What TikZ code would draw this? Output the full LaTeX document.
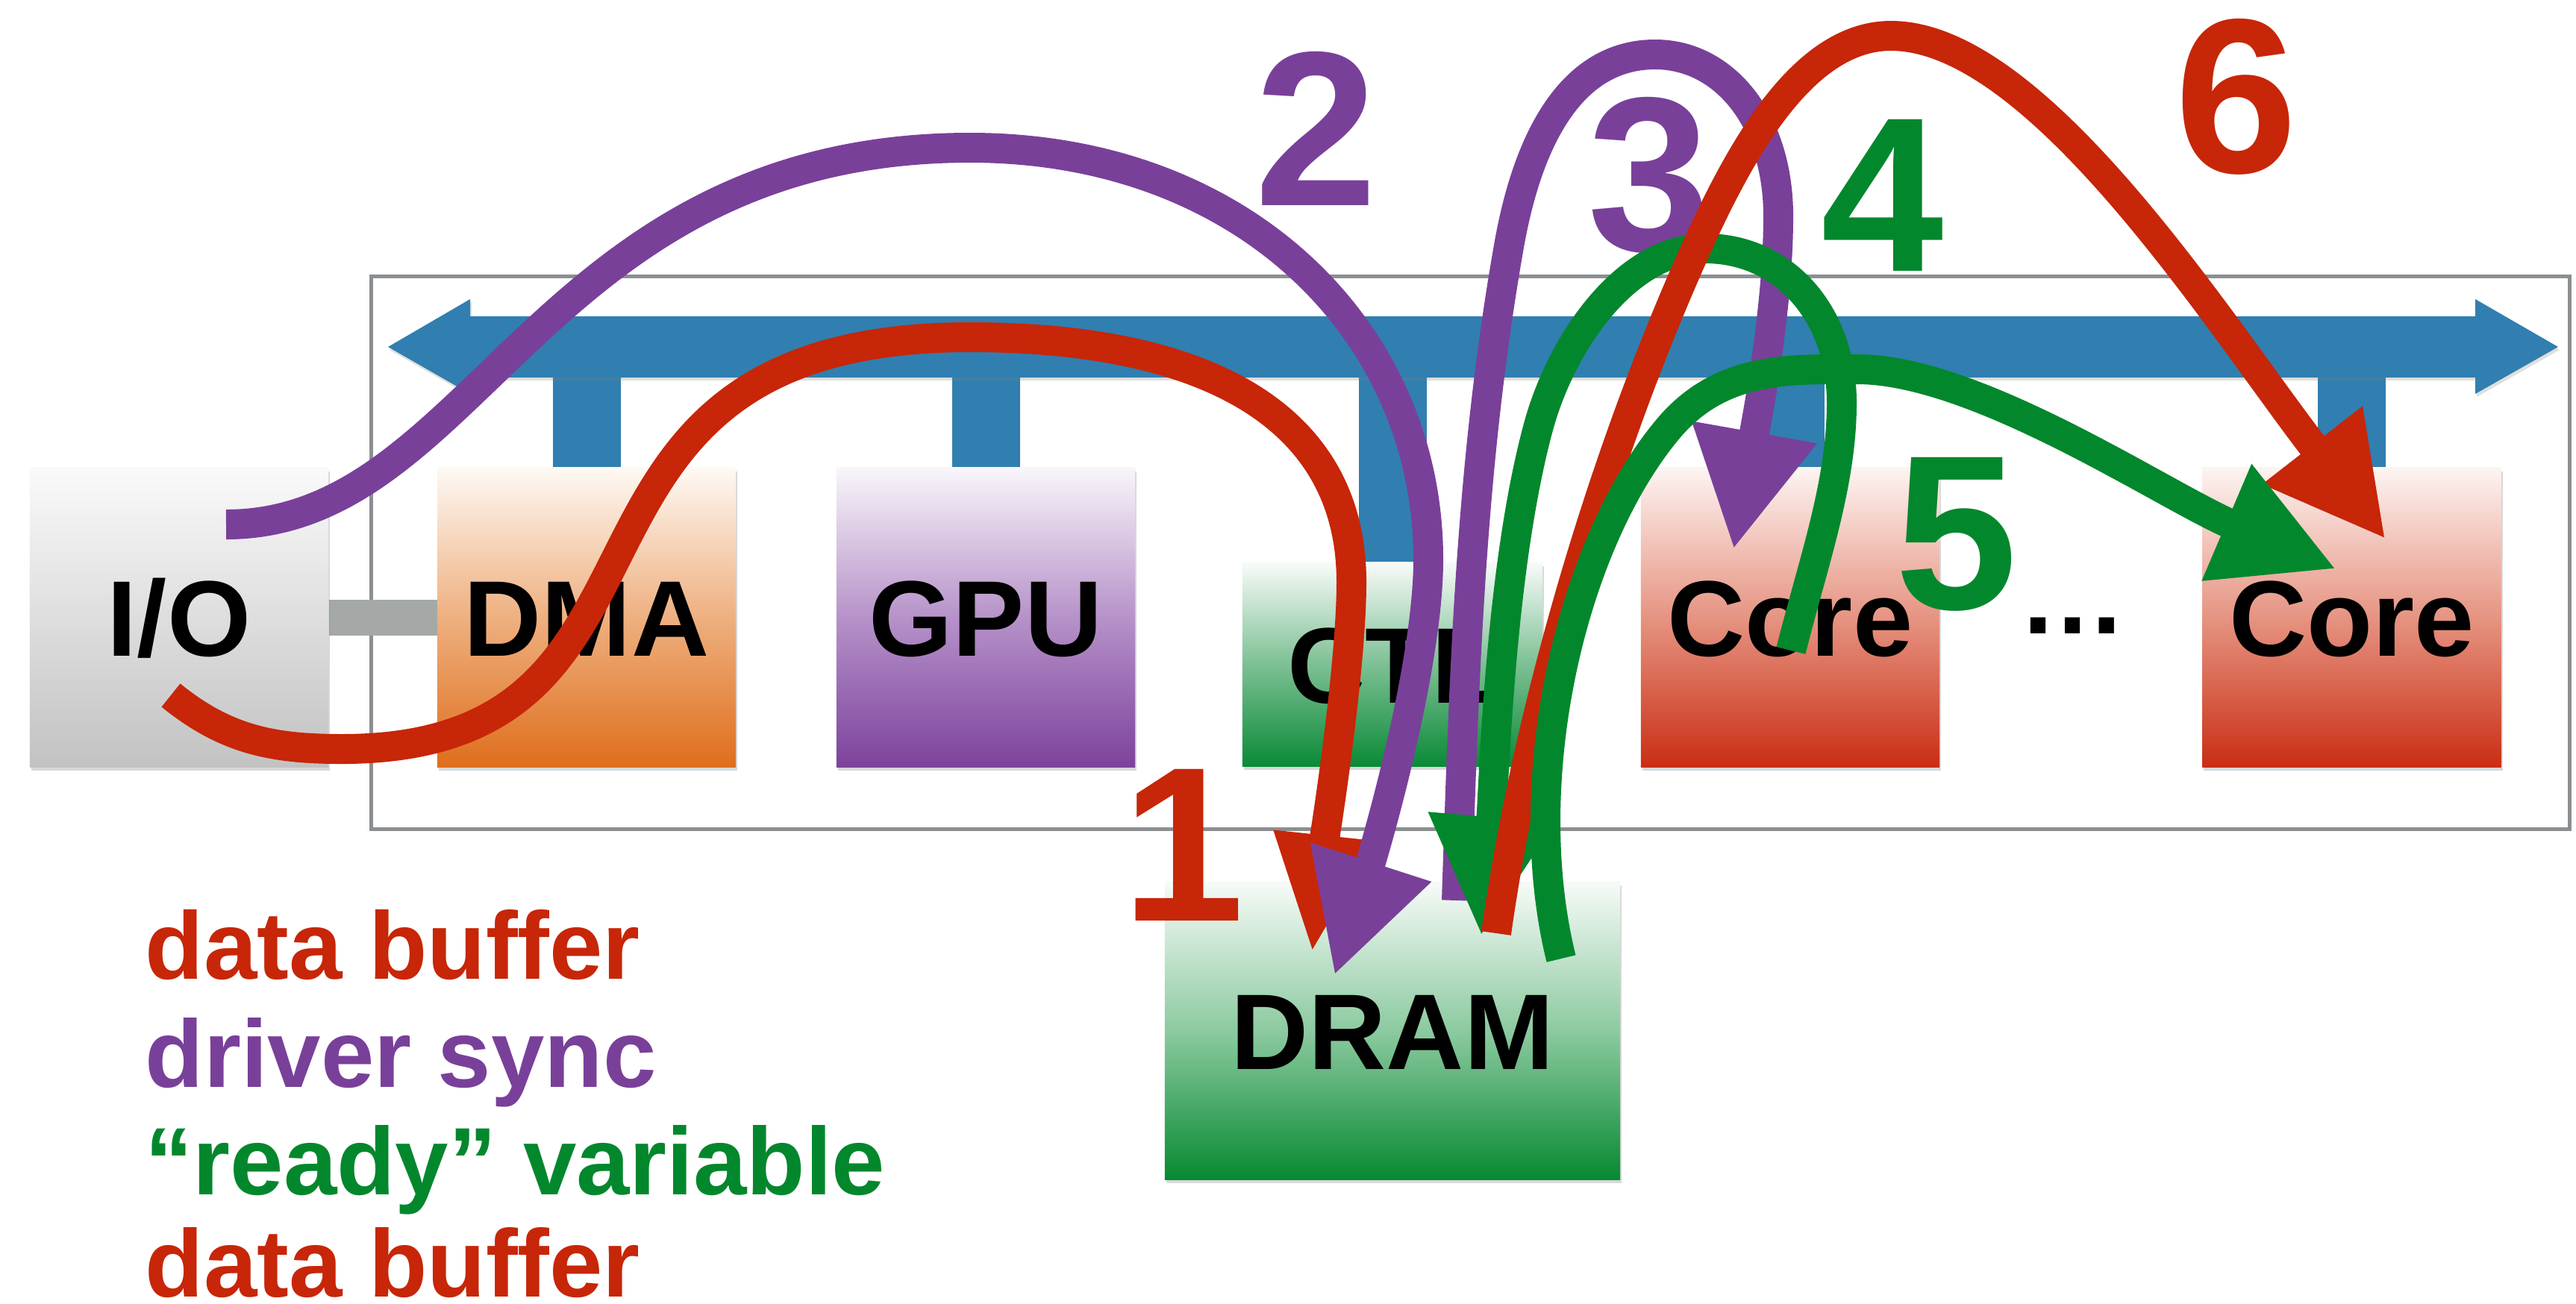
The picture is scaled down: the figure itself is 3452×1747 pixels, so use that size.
\documentclass[tikz,border=0pt]{standalone}
\usepackage{fontspec}
\setmainfont{Liberation Sans}
\usetikzlibrary{arrows.meta,shadows}

\definecolor{ared}{RGB}{199,38,8}
\definecolor{apurple}{RGB}{121,64,154}
\definecolor{agreen}{RGB}{3,135,45}
\definecolor{busblue}{RGB}{48,127,176}
\definecolor{framegray}{RGB}{140,143,146}
\definecolor{linkgray}{RGB}{164,168,167}
% box gradients: top / middle / bottom
\definecolor{ioT}{RGB}{250,250,250}\definecolor{ioM}{RGB}{222,222,222}\definecolor{ioB}{RGB}{194,194,194}
\definecolor{dmaT}{RGB}{254,249,244}\definecolor{dmaM}{RGB}{238,176,128}\definecolor{dmaB}{RGB}{223,110,28}
\definecolor{gpuT}{RGB}{249,246,251}\definecolor{gpuM}{RGB}{182,146,201}\definecolor{gpuB}{RGB}{124,66,156}
\definecolor{ctlT}{RGB}{248,251,249}\definecolor{ctlM}{RGB}{125,192,148}\definecolor{ctlB}{RGB}{10,138,55}
\definecolor{coreT}{RGB}{253,244,242}\definecolor{coreM}{RGB}{230,148,130}\definecolor{coreB}{RGB}{201,46,20}
\definecolor{dramT}{RGB}{247,251,248}\definecolor{dramM}{RGB}{140,202,160}\definecolor{dramB}{RGB}{7,137,50}

\pgfdeclarelayer{back}
\pgfsetlayers{back,main}

\tikzset{
  unit/.style={draw=none, minimum width=4cm, minimum height=4.01cm, inner sep=0pt,
    text height=1.2cm, text depth=0.16cm,
    font=\fontsize{41pt}{49pt}\selectfont\bfseries,
    drop shadow={shadow xshift=0.02cm, shadow yshift=-0.05cm, opacity=0.3}},
  digit/.style={anchor=base, inner sep=0pt, font=\fontsize{84pt}{90pt}\selectfont\bfseries},
  legend/.style={anchor=base west, inner sep=0pt, font=\fontsize{36.5pt}{44pt}\selectfont\bfseries},
  flow/.style={line width=0.4cm, draw=#1, -{Triangle[length=1.6cm,width=1.58cm]}},
}

\begin{document}
\begin{tikzpicture}[x=0.01cm, y=-0.01cm]
\useasboundingbox (0,0) rectangle (3452,1747);

% hardware units
\node[unit, top color=ioT, bottom color=ioB, middle color=ioM] (io) at (240,827.5) {I/O};
\node[unit, top color=dmaT, bottom color=dmaB, middle color=dmaM] (dma) at (786,827.5) {DMA};
\node[unit, top color=gpuT, bottom color=gpuB, middle color=gpuM] (gpu) at (1321,827.5) {GPU};
\node[unit, minimum width=4.02cm, minimum height=2.73cm, top color=ctlT, bottom color=ctlB, middle color=ctlM] (ctl) at (1866,890.5) {CTL};
\node[unit, top color=coreT, bottom color=coreB, middle color=coreM] (core1) at (2399,827.5) {Core};
\node[unit, top color=coreT, bottom color=coreB, middle color=coreM] (core2) at (3151.5,827.5) {Core};
\node[unit, minimum width=6.1cm, minimum height=3.99cm, top color=dramT, bottom color=dramB, middle color=dramM] (dram) at (1866,1381.5) {DRAM};
\node[anchor=base, inner sep=0pt, font=\fontsize{41pt}{49pt}\selectfont\bfseries] (more) at (2778,849) {…};

% page, chip outline, I/O link and the shared bus, all beneath the units
\begin{pgfonlayer}{back}
  \fill[white] (0,0) rectangle (3452,1747);
  \draw[framegray, line width=0.05cm] (497,370) rectangle (3443,1111);
  \fill[linkgray] (io.east) ++(0,-24) rectangle ++(150,48);
  \foreach \u in {dma,gpu,core1,core2}
    \fill[busblue] (\u.north) ++(-45.5,0) rectangle ++(91,-127);
  \fill[busblue] (ctl.north) ++(-45.5,0) rectangle ++(91,-254);
  \fill[busblue, drop shadow={shadow xshift=0.02cm, shadow yshift=-0.04cm, opacity=0.25}]
    (520,465) -- (630,401) -- (630,424) -- (3317,424) -- (3317,401) -- (3428,465)
    -- (3317,528) -- (3317,506) -- (630,506) -- (630,528) -- cycle;
\end{pgfonlayer}

% legend
\node[legend, text=ared] (lg1) at (194,1312) {data buffer};
\node[legend, text=apurple] (lg2) at (194,1457) {driver sync};
\node[legend, text=agreen] (lg3) at (194,1601) {“ready” variable};
\node[legend, text=ared] (lg4) at (194,1738) {data buffer};

% step numbers
\node[digit, text=ared] (s1) at (1586,1234) {1};
\node[digit, text=apurple] (s2) at (1764,275) {2};
\node[digit, text=apurple] (s3) at (2210,336) {3};
\node[digit, text=agreen] (s4) at (2523,363) {4};
\node[digit, text=agreen] (s5) at (2622,816) {5};
\node[digit, text=ared] (s6) at (2997,231) {6};

% end points of the flows
\coordinate (r1s) at (229,932);   \coordinate (r1e) at (1758,1279);
\coordinate (p2s) at (303,703);   \coordinate (p2e) at (1788,1308);
\coordinate (p3s) at (1952,1207); \coordinate (p3e) at (2323,737);
\coordinate (g4s) at (2400,872);  \coordinate (g4e) at (1985,1255);
\coordinate (r6s) at (2005,1251); \coordinate (r6e) at (3197,723);
\coordinate (g5s) at (2092,1285); \coordinate (g5e) at (3131,763);

% 1: I/O writes the data buffer into DRAM
\draw[flow=ared, -{Triangle[length=1.6cm,width=1.25cm]}] (r1s)
  .. controls (302,991) and (364,1004) .. (458,1004)
  .. controls (961,1004) and (682,452) .. (1300,452)
  .. controls (1620,452) and (1811,560) .. (1811,780)
  .. controls (1811,900) and (1774,1130) .. (r1e);
% 2: driver sync to DRAM
\draw[flow=apurple] (p2s)
  .. controls (638,703) and (724,198) .. (1300,198)
  .. controls (1668,198) and (1914,446) .. (1914,750)
  .. controls (1914,900) and (1837,1156) .. (p2e);
% 3: driver sync from DRAM to a core
\draw[flow=apurple] (p3s)
  .. controls (1962,907) and (1970,625) .. (2022,330)
  .. controls (2048,182) and (2108,73) .. (2218,73)
  .. controls (2310,73) and (2383,160) .. (2383,290)
  .. controls (2383,420) and (2351,579) .. (p3e);
% 4: ready variable written back to DRAM
\draw[flow=agreen] (g4s)
  .. controls (2429,756) and (2468,650) .. (2468,540)
  .. controls (2468,420) and (2390,333) .. (2285,333)
  .. controls (2180,333) and (2092,458) .. (2061,574)
  .. controls (2009,767) and (2002,1056) .. (g4e);
% 6: data buffer from DRAM to the last core
\draw[flow=ared] (r6s)
  .. controls (2047,954) and (2146,618) .. (2268,344)
  .. controls (2329,207) and (2414,48) .. (2534,48)
  .. controls (2734,48) and (2982,447) .. (r6e);
% 5: ready variable read by the last core
\draw[flow=agreen] (g5s)
  .. controls (2032,1042) and (2107,727) .. (2236,574)
  .. controls (2307,490) and (2400,495) .. (2489,495)
  .. controls (2650,495) and (2901,665) .. (g5e);
\end{tikzpicture}
\end{document}
